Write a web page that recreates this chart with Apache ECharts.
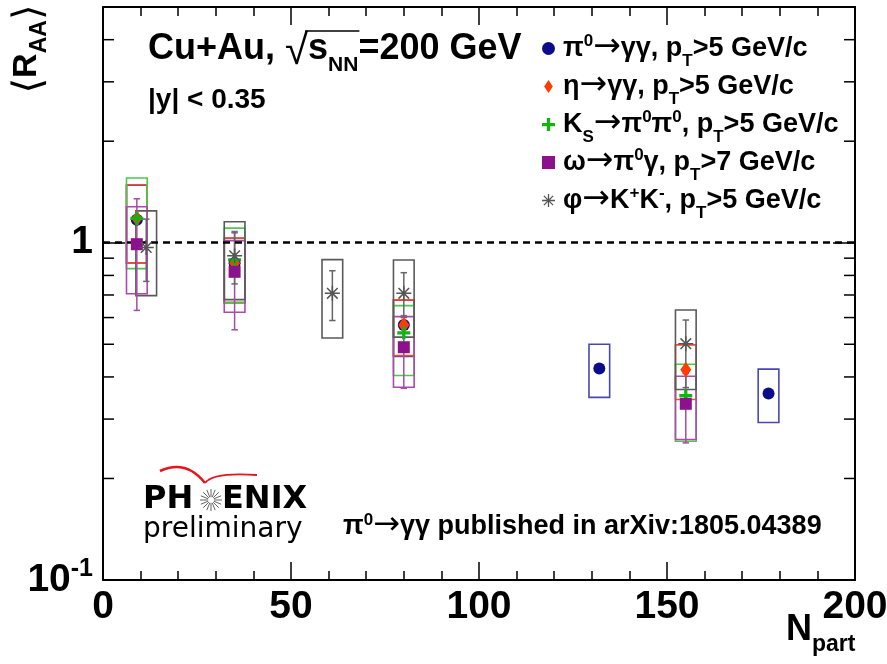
<!DOCTYPE html>
<html><head><meta charset="utf-8">
<script src="https://cdn.jsdelivr.net/npm/echarts@6/dist/echarts.min.js"></script>
<style>html,body{margin:0;padding:0;background:#fff}#c{width:887px;height:664px}</style>
</head><body><div id="c"></div>
<script>
// ---------------- data ----------------
const NPART_PI0 = [9, 35, 80, 132, 177];
const RAA_PI0 = [1.17, 0.87, 0.57, 0.424, 0.357];
const SYS_LO_PI0 = [0.87, 0.665, 0.46, 0.348, 0.293];
const SYS_HI_PI0 = [1.48, 1.03, 0.675, 0.50, 0.422];

const NPART_ETA = [9, 35, 80, 155];
const RAA_ETA = [1.18, 0.87, 0.57, 0.42];
const SYS_LO_ETA = [0.87, 0.665, 0.463, 0.343];
const SYS_HI_ETA = [1.485, 1.033, 0.677, 0.498];

const NPART_KS = [9, 35, 80, 155];
const RAA_KS = [1.18, 0.89, 0.54, 0.352];
const SYS_LO_KS = [0.838, 0.662, 0.404, 0.258];
const SYS_HI_KS = [1.556, 1.105, 0.651, 0.436];

const NPART_OMEGA = [9, 35, 80, 155];
const RAA_OMEGA = [0.99, 0.82, 0.49, 0.333];
const STAT_LO_OMEGA = [0.63, 0.552, 0.37, 0.255];
const STAT_HI_OMEGA = [1.35, 1.08, 0.608, 0.41];
const SYS_LO_OMEGA = [0.706, 0.622, 0.373, 0.261];
const SYS_HI_OMEGA = [1.278, 1.014, 0.604, 0.402];

const NPART_PHI = [11.5, 35, 61, 80, 155];
const RAA_PHI = [0.968, 0.915, 0.708, 0.708, 0.502];
const STAT_LO_PHI = [0.768, 0.755, 0.588, 0.60, 0.372];
const STAT_HI_PHI = [1.175, 1.07, 0.826, 0.815, 0.59];
const SYS_LO_PHI = [0.697, 0.678, 0.522, 0.525, 0.367];
const SYS_HI_PHI = [1.243, 1.154, 0.891, 0.889, 0.632];

const X_MIN = 0, X_MAX = 200, X_INTERVAL = 50;
const Y_MIN = 0.1, Y_MAX = 5;
const Y_MINOR_TICKS = [0.2, 0.3, 0.4, 0.5, 0.6, 0.7, 0.8, 0.9, 2, 3, 4];
const REF_VALUE = 1;

const SERIES_NAMES = ['pi0', 'eta', 'ks', 'omega', 'phi'];
const LEGEND_LABELS = {
  pi0: '{t|π}{sup|0}{ar|→}{t|γγ, p}{sub|T}{t|>5 GeV/c}',
  eta: '{t|η}{ar|→}{t|γγ, p}{sub|T}{t|>5 GeV/c}',
  ks: '{t|K}{sub|S}{ar|→}{t|π}{sup|0}{t|π}{sup|0}{t|, p}{sub|T}{t|>5 GeV/c}',
  omega: '{t|ω}{ar|→}{t|π}{sup|0}{t|γ, p}{sub|T}{t|>7 GeV/c}',
  phi: '{t|φ}{ar|→}{t|K}{sup|+}{t|K}{sup|-}{t|, p}{sub|T}{t|>5 GeV/c}'
};

// ---------------- styles ----------------
const FONT = "'Liberation Sans', Arial, Helvetica, sans-serif";
const DJV = "'DejaVu Sans', sans-serif";
const BOX_HALF = 2.75;   // half-width of systematic boxes (Npart units)
const C = {
  pi0: {marker: '#0c0c8a', box: '#4848b0'},
  eta: {marker: '#ff3c00', box: '#ff4a2a'},
  ks: {marker: '#12b412', box: '#4cc84c'},
  omega: {marker: '#8c118c', box: '#b048b0'},
  phi: {marker: '#555555', box: '#5a5a5a'}
};
const PLUS = 'path://M-1,-0.25L-0.25,-0.25L-0.25,-1L0.25,-1L0.25,-0.25L1,-0.25L1,0.25L0.25,0.25L0.25,1L-0.25,1L-0.25,0.25L-1,0.25Z';
const STAR = 'path://M-0.1,-1L0.1,-1L0.1,1L-0.1,1Z M-1,-0.1L1,-0.1L1,0.1L-1,0.1Z ' +
  'M-0.636,-0.778L0.778,0.636L0.636,0.778L-0.778,-0.636Z M0.636,-0.778L0.778,-0.636L-0.636,0.778L-0.778,0.636Z';
const TALL_DIAMOND = 'path://M0,-1.5L1,0L0,1.5L-1,0Z';

function zip(xs, ...cols) { return xs.map((x, i) => [x].concat(cols.map(c => c[i]))); }

function boxSeries(key, npart, lo, hi) {
  return {
    type: 'custom', name: key + '_sys', z: 2, silent: true,
    data: zip(npart, lo, hi), encode: {x: 0, y: [1, 2]},
    renderItem(params, api) {
      const x = api.value(0);
      const p1 = api.coord([x - BOX_HALF, api.value(2)]);
      const p2 = api.coord([x + BOX_HALF, api.value(1)]);
      return {type: 'rect', shape: {x: p1[0], y: p1[1], width: p2[0] - p1[0], height: p2[1] - p1[1]},
        style: {fill: 'none', stroke: C[key].box, lineWidth: 1.6}};
    }
  };
}
function errSeries(key, npart, lo, hi, color) {
  return {
    type: 'custom', name: key + '_stat', z: 3, silent: true,
    data: zip(npart, lo, hi), encode: {x: 0, y: [1, 2]},
    renderItem(params, api) {
      const x = api.value(0);
      const t = api.coord([x, api.value(2)]);
      const b = api.coord([x, api.value(1)]);
      const cw = 3.2, st = {stroke: color, lineWidth: 1.5};
      return {type: 'group', children: [
        {type: 'line', shape: {x1: t[0], y1: t[1], x2: b[0], y2: b[1]}, style: st},
        {type: 'line', shape: {x1: t[0] - cw, y1: t[1], x2: t[0] + cw, y2: t[1]}, style: st},
        {type: 'line', shape: {x1: b[0] - cw, y1: b[1], x2: b[0] + cw, y2: b[1]}, style: st}
      ]};
    }
  };
}
function markerSeries(key, npart, vals, symbol, size) {
  return {
    type: 'scatter', name: key, z: 5, data: zip(npart, vals),
    symbol: symbol, symbolSize: size,
    itemStyle: {color: C[key].marker, opacity: 1}
  };
}

const ticksSeries = {
  type: 'custom', name: 'yminor', z: 6, silent: true,
  data: Y_MINOR_TICKS.map(v => [X_MIN, v]), encode: {x: 0, y: 1},
  renderItem(params, api) {
    const y = api.coord([X_MIN, api.value(1)])[1];
    const cs = params.coordSys;
    const st = {stroke: '#000', lineWidth: 1.5};
    return {type: 'group', children: [
      {type: 'line', shape: {x1: cs.x, y1: y, x2: cs.x + 11, y2: y}, style: st},
      {type: 'line', shape: {x1: cs.x + cs.width - 11, y1: y, x2: cs.x + cs.width, y2: y}, style: st}
    ]};
  },
  markLine: {
    silent: true, symbol: 'none', z: 4,
    label: {show: false},
    lineStyle: {color: '#000', width: 2.5, type: [7, 5]},
    data: [{yAxis: REF_VALUE}]
  }
};

const xAxisBase = {
  type: 'value', min: X_MIN, max: X_MAX, interval: X_INTERVAL,
  axisLine: {show: true, onZero: false, lineStyle: {color: '#000', width: 2}},
  axisTick: {show: true, inside: true, length: 18, lineStyle: {color: '#000', width: 1.5}},
  minorTick: {show: true, splitNumber: 5, length: 9, lineStyle: {color: '#000', width: 1.5}},
  splitLine: {show: false}, minorSplitLine: {show: false}
};
const yAxisBase = {
  type: 'log', logBase: 10, min: Y_MIN, max: Y_MAX,
  axisLine: {show: true, onZero: false, lineStyle: {color: '#000', width: 2}},
  axisTick: {show: true, inside: true, length: 22, lineStyle: {color: '#000', width: 1.5}},
  splitLine: {show: false}, minorTick: {show: false}
};

const bold = (s, f) => ({fontSize: s, fontWeight: 'bold', fontFamily: f || FONT, color: '#000'});
// raised / lowered rich-text fragments (offset in px from the line middle)
const supS = (s, off) => ({...bold(s), verticalAlign: 'middle', lineHeight: 8, padding: [0, 0, 2 * off, 0]});
const subS = (s, off) => ({...bold(s), verticalAlign: 'middle', lineHeight: 8, padding: [2 * off, 0, 0, 0]});
const arrowS = (s) => ({fontSize: s, fontFamily: DJV, color: '#000', verticalAlign: 'middle', lineHeight: 8, padding: [0, 0, 2, 0]});

const option = {
  animation: false,
  backgroundColor: '#fff',
  grid: {left: 103, right: 32, top: 7, bottom: 84, containLabel: false, outerBoundsMode: 'none'},
  xAxis: [
    Object.assign({}, xAxisBase, {position: 'bottom',
      axisLabel: {show: true, margin: 8, ...bold(39)}}),
    Object.assign({}, xAxisBase, {position: 'top', axisLabel: {show: false}})
  ],
  yAxis: [
    Object.assign({}, yAxisBase, {position: 'left',
      axisLabel: {show: true, margin: 10, showMinLabel: true, showMaxLabel: true,
        formatter: v => Math.abs(v - 1) < 1e-9 ? '{a|1}' : (Math.abs(v - 0.1) < 1e-9 ? '{a|10}{s|-1}' : ''),
        rich: {a: {...bold(39), verticalAlign: 'middle', lineHeight: 44},
               s: supS(25, 11)}}}),
    Object.assign({}, yAxisBase, {position: 'right', axisLabel: {show: false}})
  ],
  legend: {
    show: true, orient: 'vertical', left: 537, top: 22,
    itemWidth: 13, itemHeight: 13, itemGap: -5,
    data: SERIES_NAMES.map(n => n === 'eta' ? {name: n, icon: TALL_DIAMOND} : n),
    formatter: name => LEGEND_LABELS[name],
    textStyle: {
      padding: [0, 0, 0, 3],
      rich: {
        t: {...bold(27), verticalAlign: 'middle', lineHeight: 38},
        sup: supS(17, 7),
        sub: subS(17, 13),
        ar: arrowS(33)
      }
    }
  },
  series: [
    boxSeries('pi0', NPART_PI0, SYS_LO_PI0, SYS_HI_PI0),
    boxSeries('eta', NPART_ETA, SYS_LO_ETA, SYS_HI_ETA),
    boxSeries('ks', NPART_KS, SYS_LO_KS, SYS_HI_KS),
    boxSeries('omega', NPART_OMEGA, SYS_LO_OMEGA, SYS_HI_OMEGA),
    boxSeries('phi', NPART_PHI, SYS_LO_PHI, SYS_HI_PHI),
    errSeries('omega', NPART_OMEGA, STAT_LO_OMEGA, STAT_HI_OMEGA, '#a24ea2'),
    errSeries('phi', NPART_PHI, STAT_LO_PHI, STAT_HI_PHI, '#666666'),
    ticksSeries,
    markerSeries('pi0', NPART_PI0, RAA_PI0, 'circle', 12),
    markerSeries('eta', NPART_ETA, RAA_ETA, 'diamond', [11, 16]),
    markerSeries('ks', NPART_KS, RAA_KS, PLUS, 13),
    markerSeries('omega', NPART_OMEGA, RAA_OMEGA, 'rect', 12),
    markerSeries('phi', NPART_PHI, RAA_PHI, STAR, 15)
  ]
};

// text measuring helper for the sqrt overline
function textW(str, font) {
  const ctx = document.createElement('canvas').getContext('2d');
  ctx.font = font; return ctx.measureText(str).width;
}
const HX = 148, HY = 49;
const wPre = textW('Cu+Au, ', "bold 36px 'Liberation Sans'") + textW('√', "42px 'Liberation Sans'");
const wS = textW('s', "bold 36px 'Liberation Sans'") + textW('NN', "bold 21px 'Liberation Sans'");

option.graphic = [
  {type: 'text', x: HX, y: HY, z: 10, style: {
    text: '{t|Cu+Au, }{r|√}{t|s}{sub|NN}{t|=200 GeV}', verticalAlign: 'middle',
    rich: {t: {...bold(36), verticalAlign: 'middle', lineHeight: 44},
           r: {fontSize: 42, fontFamily: FONT, color: '#000', verticalAlign: 'middle', lineHeight: 8, padding: [6, 0, 0, 0]},
           sub: subS(21, 16)}}},
  {type: 'line', z: 10, shape: {x1: HX + wPre - 3, y1: 31, x2: HX + wPre + wS + 1, y2: 31},
    style: {stroke: '#000', lineWidth: 1.6}},
  {type: 'text', x: 148, y: 100, z: 10, style: {text: '|y| < 0.35', ...bold(28), verticalAlign: 'middle'}},
  {type: 'text', x: 27, y: 49, rotation: Math.PI / 2, z: 10, style: {
    text: '{br|⟨}{t|R}{sub|AA}{br|⟩}', align: 'center', verticalAlign: 'middle',
    rich: {t: {...bold(34), verticalAlign: 'middle', lineHeight: 40},
           sub: subS(23, 13),
           br: {fontSize: 40, fontFamily: DJV, color: '#000', verticalAlign: 'middle', lineHeight: 8, padding: [8, 0, 0, 0]}}}},
  {type: 'text', x: 786, y: 630, z: 10, style: {
    text: '{t|N}{sub|part}', verticalAlign: 'middle',
    rich: {t: {...bold(36), verticalAlign: 'middle', lineHeight: 40},
           sub: subS(23, 15)}}},
  {type: 'text', x: 343, y: 527, z: 10, style: {
    text: '{t|π}{sup|0}{ar|→}{t|γγ published in arXiv:1805.04389}', verticalAlign: 'middle',
    rich: {t: {...bold(27), verticalAlign: 'middle', lineHeight: 34},
           sup: supS(17, 7), ar: arrowS(32)}}},
  // PHENIX logo
  {type: 'text', x: 143, y: 500, z: 10, style: {text: 'PH', fontSize: 32, fontWeight: 'bold', fontFamily: DJV, fill: '#000', verticalAlign: 'middle'}},
  {type: 'text', x: 222, y: 500, z: 10, style: {text: 'ENIX', fontSize: 32, fontWeight: 'bold', fontFamily: DJV, fill: '#000', verticalAlign: 'middle'}},
  {type: 'group', x: 211, y: 500, z: 10, children: Array.from({length: 16}, (_, i) => {
    const a = i * Math.PI / 8;
    return {type: 'line', shape: {x1: 3 * Math.cos(a), y1: 3 * Math.sin(a), x2: 11 * Math.cos(a), y2: 11 * Math.sin(a)},
      style: {stroke: '#666', lineWidth: 1}};
  })},
  {type: 'bezierCurve', z: 10, shape: {x1: 160, y1: 471, cpx1: 186, cpy1: 459, x2: 205, y2: 483},
    style: {stroke: '#e8131b', lineWidth: 2.5, fill: 'none'}},
  {type: 'bezierCurve', z: 10, shape: {x1: 205, y1: 483, cpx1: 213, cpy1: 472, x2: 257, y2: 475},
    style: {stroke: '#e8131b', lineWidth: 1.8, fill: 'none'}},
  {type: 'text', x: 143, y: 530, z: 10, style: {text: 'preliminary', fontSize: 28, fontFamily: DJV, fill: '#000', verticalAlign: 'middle'}}
];

const chart = echarts.init(document.getElementById('c'));
chart.setOption(option);
</script></body></html>
